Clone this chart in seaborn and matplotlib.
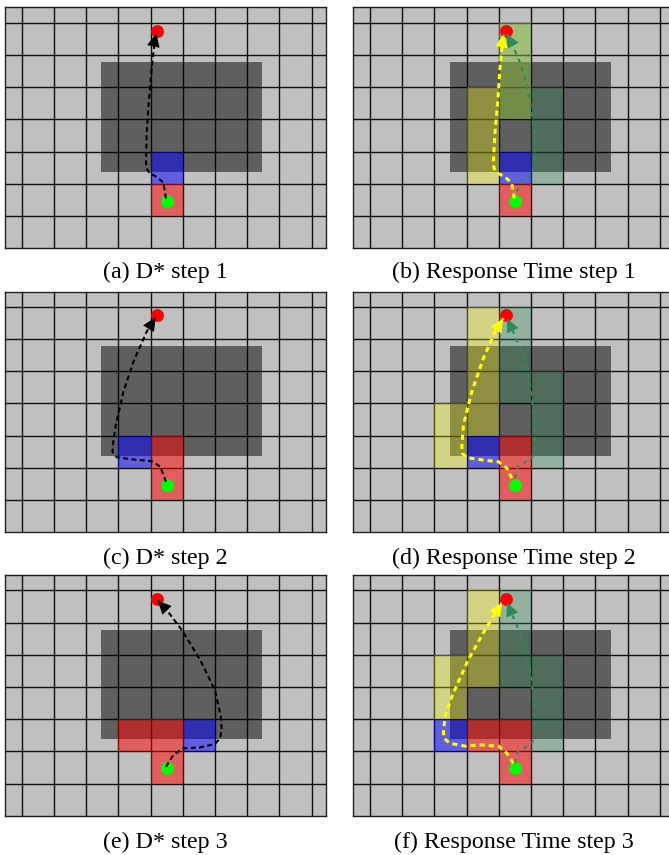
import matplotlib
matplotlib.use("Agg")
import matplotlib.pyplot as plt
from matplotlib.patches import Rectangle
import seaborn as sns

sns.set_style("white")
plt.rcParams["font.family"] = ["Liberation Serif", "DejaVu Serif"]

# ---------------- data ----------------
captions = ["(a) D* step 1", "(b) Response Time step 1",
            "(c) D* step 2", "(d) Response Time step 2",
            "(e) D* step 3", "(f) Response Time step 3"]

grid_x = [0, 1, 2, 3, 4, 5, 6, 7, 8, 9]
grid_y = [1, 2, 3, 4, 5, 6, 7]

start_x = [4.5]
start_y = [1.47]
goal_x = [4.21]
goal_y = [6.74]

obstacle = (2.47, 2.37, 7.47, 5.78)  # x0, y0, x1, y1

red_cells = [
    [(4, 1)],
    [(4, 1)],
    [(4, 1), (4, 2)],
    [(4, 1), (4, 2)],
    [(3, 2), (4, 2), (4, 1)],
    [(3, 2), (4, 2), (4, 1)],
]
blue_cells = [
    [(4, 2)],
    [(4, 2)],
    [(3, 2)],
    [(3, 2)],
    [(5, 2)],
    [(2, 2)],
]
yellow_cells = [
    [],
    [(3, 2), (3, 3), (3, 4), (4, 4), (4, 5), (4, 6)],
    [],
    [(2, 2), (2, 3), (3, 3), (3, 4), (3, 5), (3, 6)],
    [],
    [(2, 3), (2, 4), (3, 4), (3, 5), (3, 6)],
]
green_cells = [
    [],
    [(5, 2), (5, 3), (5, 4), (4, 4), (4, 5), (4, 6)],
    [],
    [(5, 2), (5, 3), (5, 4), (4, 4), (4, 5), (4, 6)],
    [],
    [(5, 2), (5, 3), (5, 4), (4, 4), (4, 5), (4, 6)],
]

# D* paths (black)
dstar1_x = [4.48, 4.40, 4.19, 3.97, 3.87, 3.86, 3.88, 3.95, 4.04, 4.14, 4.18]
dstar1_y = [1.55, 2.04, 2.22, 2.33, 2.50, 2.70, 3.57, 4.61, 5.64, 6.50, 6.68]
dstar2_x = [4.48, 4.30, 4.04, 3.47, 2.95, 2.82, 2.84, 2.92, 3.16, 3.47, 3.88, 4.16]
dstar2_y = [1.57, 2.04, 2.21, 2.26, 2.33, 2.50, 2.80, 3.33, 4.37, 5.30, 6.23, 6.68]
dstar3_x = [4.48, 4.71, 5.02, 5.54, 6.00, 6.16, 6.21, 6.18, 6.00, 5.54, 4.97, 4.50, 4.22]
dstar3_y = [1.52, 1.89, 2.09, 2.12, 2.23, 2.40, 2.70, 3.10, 3.90, 4.84, 5.77, 6.39, 6.68]

# Response-time paths (yellow, green)
yel1_x = [4.48, 4.40, 4.19, 3.97, 3.85, 3.83, 3.88, 3.97, 4.04, 4.12, 4.16]
yel1_y = [1.55, 2.02, 2.22, 2.33, 2.48, 2.70, 3.57, 4.61, 5.64, 6.45, 6.66]
grn1_x = [4.56, 4.71, 5.02, 5.10, 5.12, 5.10, 4.97, 4.71, 4.40, 4.24]
grn1_y = [1.76, 2.12, 2.33, 2.55, 2.74, 3.57, 4.61, 5.64, 6.37, 6.66]

yel2_x = [4.40, 4.25, 3.99, 3.47, 3.00, 2.87, 2.85, 2.90, 3.16, 3.52, 3.88, 4.14]
yel2_y = [1.68, 1.99, 2.19, 2.25, 2.32, 2.45, 2.65, 3.33, 4.37, 5.40, 6.23, 6.64]
grn2_x = [4.50, 4.59, 5.02, 5.10, 5.12, 5.10, 4.97, 4.71, 4.40, 4.25]
grn2_y = [1.68, 2.04, 2.30, 2.50, 2.71, 3.54, 4.58, 5.61, 6.33, 6.64]

yel3_x = [4.45, 4.25, 3.99, 3.47, 2.95, 2.48, 2.30, 2.28, 2.33, 2.54, 3.05, 3.57, 4.10]
yel3_y = [1.63, 1.94, 2.16, 2.20, 2.16, 2.25, 2.40, 2.60, 3.07, 3.70, 4.84, 5.77, 6.62]
grn3_x = [4.50, 4.59, 5.02, 5.10, 5.12, 5.10, 4.97, 4.71, 4.40, 4.25]
grn3_y = [1.63, 1.99, 2.23, 2.45, 2.66, 3.48, 4.52, 5.56, 6.28, 6.62]

paths = [
    [(dstar1_x, dstar1_y, "black")],
    [(grn1_x, grn1_y, "#2e8b57"), (yel1_x, yel1_y, "#ffff00")],
    [(dstar2_x, dstar2_y, "black")],
    [(grn2_x, grn2_y, "#2e8b57"), (yel2_x, yel2_y, "#ffff00")],
    [(dstar3_x, dstar3_y, "black")],
    [(grn3_x, grn3_y, "#2e8b57"), (yel3_x, yel3_y, "#ffff00")],
]

# ---------------- layout ----------------
W, H = 669, 855
fig = plt.figure(figsize=(W / 100, H / 100), dpi=100)

col_left = [5.0, 353.3]
row_top = [7.3, 291.7, 574.7]
row_bottom = [248.3, 532.3, 815.7]
caption_y = [272, 558, 842]
panel_w = 321.0

line_style = {
    "black": dict(lw=1.5, dashes=(2.4, 1.6)),
    "#ffff00": dict(lw=2.2, dashes=(1.7, 1.3)),
    "#2e8b57": dict(lw=1.5, dashes=(2.0, 2.4)),
}

for i in range(6):
    r, c = divmod(i, 2)
    x0 = col_left[c]
    top = row_top[r]
    bot = row_bottom[r]
    ax = fig.add_axes([x0 / W, 1 - bot / H, panel_w / W, (bot - top) / H])
    ax.set_facecolor("#c0c0c0")

    # grid
    ax.set_xticks(grid_x)
    ax.set_yticks(grid_y)
    ax.grid(True, color="#111111", lw=1.0)
    ax.set_axisbelow(True)

    # obstacle
    ox0, oy0, ox1, oy1 = obstacle
    ax.add_patch(Rectangle((ox0, oy0), ox1 - ox0, oy1 - oy0,
                           facecolor="black", alpha=0.5, lw=0, zorder=1))

    for (cx, cy) in yellow_cells[i]:
        ax.add_patch(Rectangle((cx, cy), 1, 1, facecolor="#ffff00",
                               alpha=0.3, lw=0, zorder=1.2))
    for (cx, cy) in green_cells[i]:
        ax.add_patch(Rectangle((cx, cy), 1, 1, facecolor="#2e8b57",
                               alpha=0.3, lw=0, zorder=1.3))
    for (cx, cy) in red_cells[i]:
        ax.add_patch(Rectangle((cx, cy), 1, 1, facecolor="#ff0000",
                               alpha=0.5, lw=0, zorder=1.4))
    for (cx, cy) in blue_cells[i]:
        ax.add_patch(Rectangle((cx, cy), 1, 1, facecolor="#0000ff",
                               alpha=0.5, lw=0, zorder=1.5))

    # start / goal dots
    sns.scatterplot(x=start_x, y=start_y, color="#00ff00", s=85,
                    linewidth=0, ax=ax, zorder=3)
    sns.scatterplot(x=goal_x, y=goal_y, color="#ff0000", s=85,
                    linewidth=0, ax=ax, zorder=3)

    # paths
    for (px, py, col) in paths[i]:
        st = line_style[col]
        sns.lineplot(x=px, y=py, sort=False, estimator=None, color=col,
                     lw=st["lw"], ax=ax, zorder=4)
        ax.lines[-1].set_dashes(st["dashes"])
        ax.annotate("", xy=(px[-1], py[-1]), xytext=(px[-2], py[-2]),
                    arrowprops=dict(arrowstyle="-|>,head_length=0.75,head_width=0.35",
                                    color=col, lw=0, shrinkA=0, shrinkB=0,
                                    mutation_scale=13),
                    zorder=5)

    ax.set_xlim(-0.52, 9.45)
    ax.set_ylim(0, (bot - top) / 32.2)
    ax.set_xlabel("")
    ax.set_ylabel("")
    ax.tick_params(length=0, labelbottom=False, labelleft=False)
    for sp in ax.spines.values():
        sp.set_visible(True)
        sp.set_color("#222222")
        sp.set_linewidth(1.0)

    fig.text((x0 + panel_w / 2) / W, 1 - caption_y[r] / H, captions[i],
             ha="center", va="center", fontsize=17.3, color="black")

fig.savefig("out.png", dpi=100)
